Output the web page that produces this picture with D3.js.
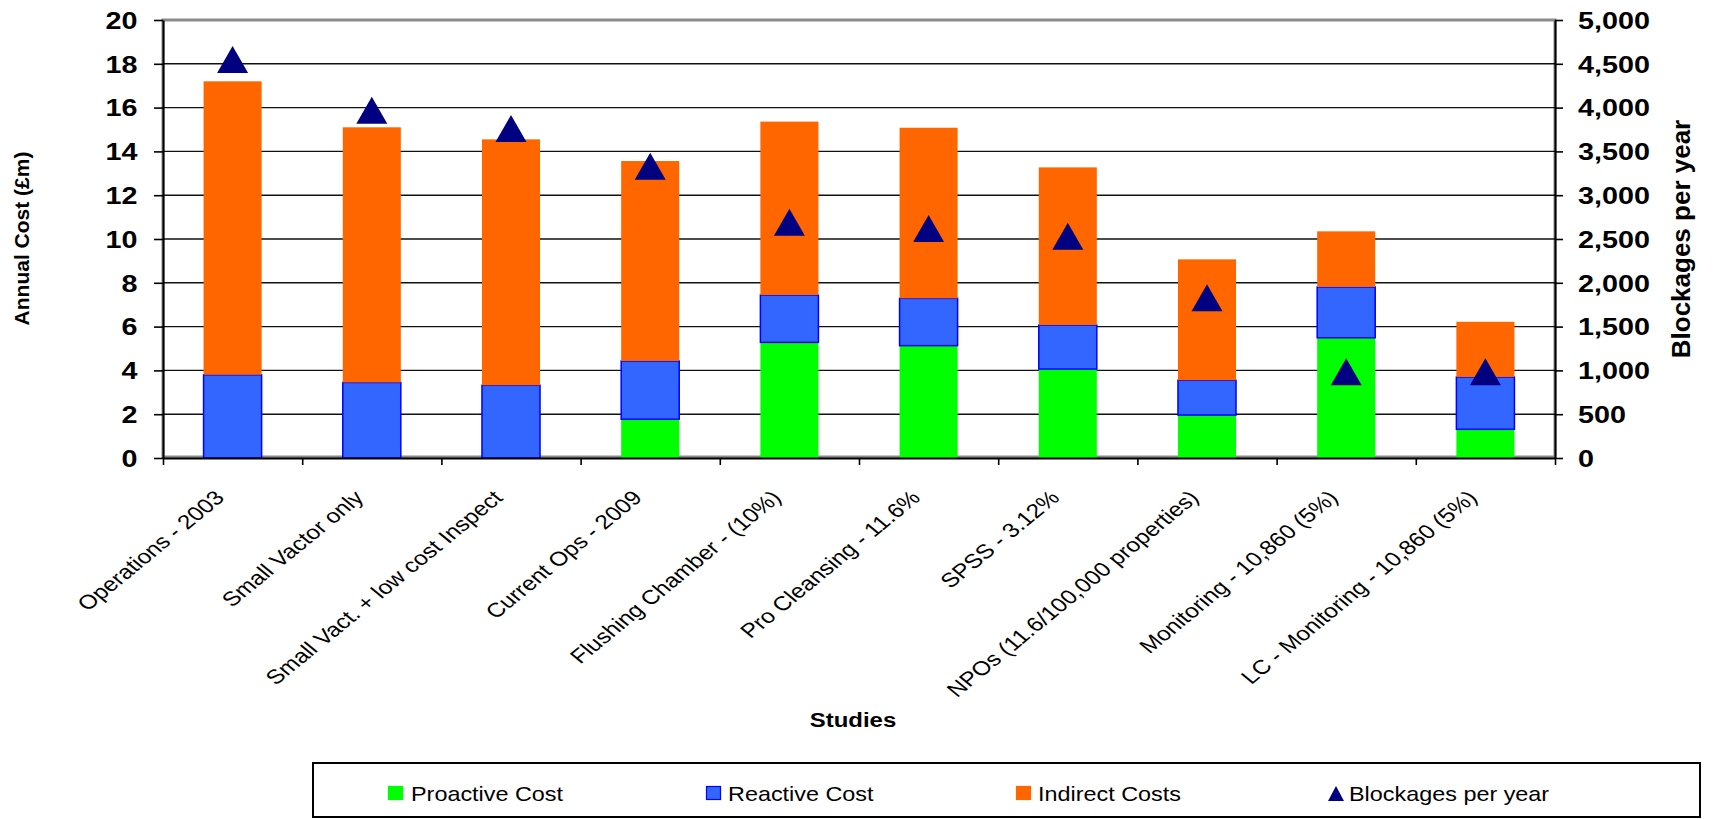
<!DOCTYPE html>
<html>
<head>
<meta charset="utf-8">
<script src="https://cdn.jsdelivr.net/npm/d3@7"></script>
<style>
  html, body { margin: 0; padding: 0; background: #fff; }
  svg { display: block; font-family: "Liberation Sans", Arial, sans-serif; }
</style>
</head>
<body>
<svg id="chart" width="1714" height="819"></svg>
<script>
// Study scenarios along the x axis
const categories = [
  "Operations - 2003",
  "Small Vactor only",
  "Small Vact. + low cost Inspect",
  "Current Ops - 2009",
  "Flushing Chamber - (10%)",
  "Pro Cleansing - 11.6%",
  "SPSS - 3.12%",
  "NPOs (11.6/100,000 properties)",
  "Monitoring - 10,860 (5%)",
  "LC - Monitoring - 10,860 (5%)"
];

// Annual cost components (£m), stacked bottom to top
const proactiveCost = [0, 0, 0, 1.77, 5.28, 5.13, 4.06, 1.96, 5.49, 1.31];
const reactiveCost  = [3.80, 3.45, 3.32, 2.66, 2.16, 2.16, 2.01, 1.59, 2.32, 2.39];
const indirectCosts = [13.40, 11.65, 11.23, 9.13, 7.92, 7.79, 7.20, 5.52, 2.54, 2.52];

// Blockages per year (secondary axis)
const blockagesPerYear = [4550, 3970, 3760, 3330, 2690, 2620, 2530, 1830, 985, 985];

// Axis tick values
const costTicks = [0, 2, 4, 6, 8, 10, 12, 14, 16, 18, 20];
const blockageTicks = [0, 500, 1000, 1500, 2000, 2500, 3000, 3500, 4000, 4500, 5000];

const seriesKeys = ["proactive", "reactive", "indirect"];
const seriesNames = ["Proactive Cost", "Reactive Cost", "Indirect Costs", "Blockages per year"];
const fills = { proactive: "#00FF00", reactive: "#3366FF", indirect: "#FF6600" };
const strokes = { proactive: "none", reactive: "#0000FF", indirect: "none" };
const markerColor = "#000080";

const svg = d3.select("#chart");
const plot = { left: 163, right: 1555, top: 20, bottom: 458 };

const rows = categories.map((c, i) => ({
  study: c,
  proactive: proactiveCost[i],
  reactive: reactiveCost[i],
  indirect: indirectCosts[i],
  blockages: blockagesPerYear[i]
}));

const x = d3.scaleBand()
  .domain(categories)
  .range([plot.left, plot.right])
  .paddingInner(0.583)
  .paddingOuter(0.2915);

const xBound = d3.scaleLinear().domain([0, categories.length]).range([plot.left, plot.right]);
const yCost = d3.scaleLinear().domain([0, 20]).range([plot.bottom, plot.top]);
const yBlock = d3.scaleLinear().domain([0, 5000]).range([plot.bottom, plot.top]);

// Plot area frame
svg.append("rect")
  .attr("x", plot.left).attr("y", plot.top)
  .attr("width", plot.right - plot.left).attr("height", plot.bottom - 1 - plot.top)
  .attr("fill", "#fff").attr("stroke", "#8a8a8a").attr("stroke-width", 3);

// Horizontal gridlines
svg.append("g").selectAll("line")
  .data(costTicks.filter(d => d > 0 && d < 20))
  .join("line")
  .attr("x1", plot.left).attr("x2", plot.right)
  .attr("y1", d => yCost(d)).attr("y2", d => yCost(d))
  .attr("stroke", "#111").attr("stroke-width", 1.4);

// Stacked bars
const stacked = d3.stack().keys(seriesKeys)(rows);
svg.append("g").selectAll("g")
  .data(stacked)
  .join("g")
  .attr("fill", d => fills[d.key])
  .attr("stroke", d => strokes[d.key])
  .attr("stroke-width", 1.5)
  .selectAll("rect")
  .data(d => d.filter(s => s[1] - s[0] > 0))
  .join("rect")
  .attr("x", d => x(d.data.study))
  .attr("width", x.bandwidth())
  .attr("y", d => yCost(d[1]))
  .attr("height", d => yCost(d[0]) - yCost(d[1]));

// Axes
const textScale = 1.25;
const leftAxis = svg.append("g")
  .attr("transform", `translate(${plot.left},0)`)
  .call(d3.axisLeft(yCost).tickValues(costTicks).tickSize(9).tickSizeOuter(0).tickFormat(d3.format("d")));
const rightAxis = svg.append("g")
  .attr("transform", `translate(${plot.right},0)`)
  .call(d3.axisRight(yBlock).tickValues(blockageTicks).tickSize(8).tickSizeOuter(0).tickFormat(d3.format(",")));
const bottomAxis = svg.append("g")
  .attr("transform", `translate(0,${plot.bottom})`)
  .call(d3.axisBottom(xBound).ticks(categories.length).tickSize(7).tickSizeOuter(0).tickFormat(""));

[leftAxis, rightAxis, bottomAxis].forEach(a => {
  a.select(".domain").attr("stroke", "#000").attr("stroke-width", 2);
  a.selectAll(".tick line").attr("stroke", "#000").attr("stroke-width", 1.6);
});

leftAxis.selectAll(".tick text")
  .attr("x", -25.5 / textScale)
  .attr("dy", "0.36em")
  .attr("transform", `scale(${textScale},1)`)
  .attr("font-size", 23).attr("font-weight", "bold").attr("fill", "#000")
  .attr("font-family", "Liberation Sans, Arial, sans-serif");

rightAxis.selectAll(".tick text")
  .attr("x", 23 / textScale)
  .attr("dy", "0.36em")
  .attr("transform", `scale(${textScale},1)`)
  .attr("font-size", 23).attr("font-weight", "bold").attr("fill", "#000")
  .attr("font-family", "Liberation Sans, Arial, sans-serif");

// Category labels, slanted
svg.append("g").selectAll("g")
  .data(categories)
  .join("g")
  .attr("transform", d => `translate(${x(d) + x.bandwidth() / 2 - 13},${plot.bottom + 36})`)
  .append("text")
  .attr("transform", "scale(1.22,1) rotate(-45)")
  .attr("text-anchor", "end")
  .attr("dy", "0.35em")
  .attr("font-size", 20)
  .attr("fill", "#000")
  .text(d => d);

// Blockage markers (triangles centred on the value)
const triW = 31, triH = 27;
svg.append("g").selectAll("path")
  .data(rows)
  .join("path")
  .attr("transform", d => `translate(${x(d.study) + x.bandwidth() / 2},${yBlock(d.blockages)})`)
  .attr("d", `M0,${-triH / 2}L${triW / 2},${triH / 2}L${-triW / 2},${triH / 2}Z`)
  .attr("fill", markerColor);

// Axis titles
svg.append("text")
  .attr("transform", "translate(29,238.5) rotate(-90)")
  .attr("text-anchor", "middle")
  .attr("font-size", 21).attr("font-weight", "bold")
  .text("Annual Cost (£m)");

svg.append("text")
  .attr("transform", "translate(1690,239) rotate(-90)")
  .attr("text-anchor", "middle")
  .attr("font-size", 26).attr("font-weight", "bold")
  .text("Blockages per year");

svg.append("text")
  .attr("transform", "translate(853,727) scale(1.14,1)")
  .attr("text-anchor", "middle")
  .attr("font-size", 21).attr("font-weight", "bold")
  .text("Studies");

// Legend
const legend = svg.append("g");
legend.append("rect")
  .attr("x", 313).attr("y", 763).attr("width", 1387).attr("height", 54)
  .attr("fill", "#fff").attr("stroke", "#000").attr("stroke-width", 2);

const legendX = [388, 706, 1016, 1328];
const legendTextX = [23, 22, 22, 21];
const legendItems = legend.selectAll("g.item")
  .data(seriesNames)
  .join("g")
  .attr("class", "item")
  .attr("transform", (d, i) => `translate(${legendX[i]},786)`);

legendItems.each(function (d, i) {
  const g = d3.select(this);
  if (i < 3) {
    const key = seriesKeys[i];
    g.append("rect")
      .attr("x", 0.5).attr("y", 0.5).attr("width", 14).attr("height", 13)
      .attr("fill", fills[key])
      .attr("stroke", key === "reactive" ? "#0000FF" : fills[key])
      .attr("stroke-width", 1.2);
  } else {
    g.append("path")
      .attr("d", "M8,0L16,15L0,15Z")
      .attr("fill", markerColor);
  }
  g.append("text")
    .attr("transform", `translate(${legendTextX[i]},14.5) scale(1.17,1)`)
    .attr("font-size", 20).attr("fill", "#000")
    .text(d);
});
</script>
</body>
</html>
